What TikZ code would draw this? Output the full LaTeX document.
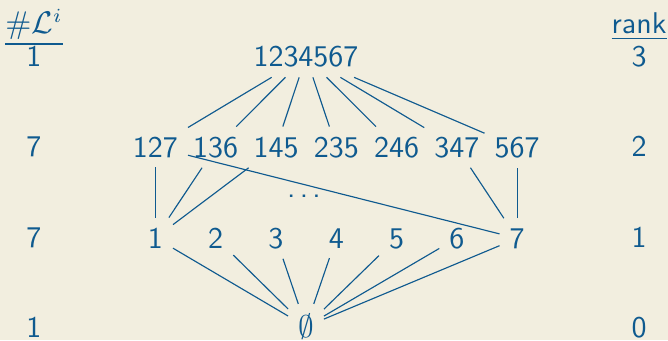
\documentclass[tikz,border=0pt]{standalone}
\usepackage{amsmath,amssymb}
\usepackage{xcolor}
\usepackage{tikz}
\usetikzlibrary{positioning}
\definecolor{inkblue}{HTML}{0F5A8F}
\definecolor{paperbg}{HTML}{F2EEDF}
\tikzset{
  elt/.style={text=inkblue,font=\sffamily\fontsize{10.5}{12}\selectfont,anchor=base},
  cover/.style={inkblue,thin}
}
\begin{document}
\begin{tikzpicture}[x=1pt,y=1pt]
\useasboundingbox (0,0) rectangle (233.8,119);
\fill[paperbg] (0,0) rectangle (233.8,119);
% headings
\node[elt] (hcount) at (11.9,107.2) {\underline{$\#\mathcal{L}^i$}};
\node[elt] (hrank) at (223.7,107.2) {\underline{rank}};
% left and right columns
\foreach \n/\r [count=\k from 0] in {1/0,7/1,7/2,1/3} {
  \node[elt] (cnt\k) at (11.9,0.9+31.6*\k) {\n};
  \node[elt] (rk\k) at (223.7,0.9+31.6*\k) {\r};
}
% the lattice
\node[elt] (top) at (107.1,95.7) {1234567};
\foreach \lab [count=\i from 0] in {127,136,145,235,246,347,567}
  \node[elt] (l\lab) at (54.4+21.1*\i,64.05) {\lab};
\node[elt] (dots) at (106.4,49.8) {.\hspace{1.5pt}.\hspace{1.5pt}.};
\foreach \i in {1,...,7}
  \node[elt] (a\i) at (54.4+21.1*\i-21.1,32.2) {\i};
\node[elt] (bot) at (107.1,0.9) {$\emptyset$};
% covering relations
\foreach \lab in {127,136,145,235,246,347,567}
  \draw[cover] (top) -- (l\lab);
\foreach \lab in {127,136,145}
  \draw[cover] (a1) -- (l\lab);
\foreach \lab in {127,347,567}
  \draw[cover] (a7) -- (l\lab);
\foreach \i in {1,...,7}
  \draw[cover] (bot) -- (a\i);
\end{tikzpicture}
\end{document}
